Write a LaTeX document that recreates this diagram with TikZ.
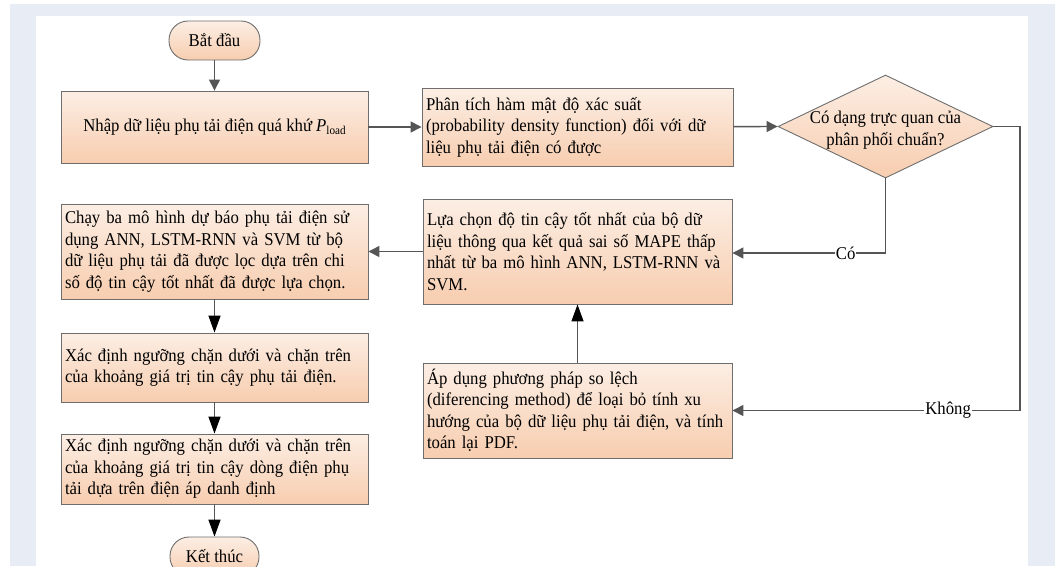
\documentclass[tikz,border=0pt]{standalone}
\usepackage{fontspec}
\setmainfont[FakeStretch=0.93]{Liberation Serif}
\usetikzlibrary{shapes.geometric,arrows.meta,calc}
\definecolor{framebg}{HTML}{E8ECF5}
\definecolor{linegray}{HTML}{555555}
\definecolor{boxedge}{HTML}{6E6E6E}
\definecolor{peachtop}{HTML}{FCEEE4}
\definecolor{peachbot}{HTML}{F7CDAF}
% a line set to a given width, spaces stretched or shrunk
\newcommand\spreadline[2]{\makebox[#1][s]{#2}}
\begin{document}
\begin{tikzpicture}[x=1pt,y=-1pt,
  txt/.style={font=\fontsize{18}{21.5}\selectfont},
  procbox/.style={rectangle, draw=boxedge, line width=0.9pt, top color=peachtop,
    bottom color=peachbot, inner sep=4pt, txt},
  termbox/.style={procbox, rounded corners=19pt, inner sep=0pt},
  decbox/.style={diamond, draw=boxedge, line width=0.9pt, top color=peachtop,
    bottom color=peachbot, inner sep=0pt},
  flow/.style={draw=linegray, line width=1.4pt},
  grayarrow/.style={flow, -{Triangle[length=11pt,width=11pt]}},
  blackarrow/.style={flow, -{Triangle[length=17pt,width=12pt,color=black]}},
  branchlabel/.style={txt, fill=white, inner sep=1pt},
]
% page frame
\clip (0,0) rectangle (1055,566);
\fill[white] (0,0) rectangle (1055,566);
\fill[framebg] (10,4) rectangle (1055,566);
\fill[white] (36,16) rectangle (1028,566);

% nodes
\node[termbox, minimum width=91pt, minimum height=39pt] (start) at (214.5,40.5) {Bắt đầu};

\node[procbox, minimum width=307pt, minimum height=72pt, align=center] (box1) at (214.5,127)
  {Nhập dữ liệu phụ tải điện quá khứ \textit{P}\raisebox{-0.35ex}{\fontsize{12}{12}\selectfont load}};

\node[procbox, text width=303pt, minimum height=78pt, align=left] (box2) at (577.5,127)
  {\mbox{Phân tích hàm mật độ xác suất}\\
   \mbox{(probability density function) đối với dữ}\\
   \mbox{liệu phụ tải điện có được}};

\node[decbox, minimum width=215pt, minimum height=103pt] (dec) at (885.5,126.5) {};
\node[txt, align=center, inner sep=0pt] (dectext) at (885.5,130)
  {Có dạng trực quan của\\ phân phối chuẩn?};

\node[procbox, text width=301pt, minimum height=105pt, align=left] (box3) at (577.5,251.5)
  {\mbox{Lựa chọn độ tin cậy tốt nhất của bộ dữ}\\
   \mbox{liệu thông qua kết quả sai số MAPE thấp}\\
   \mbox{nhất từ ba mô hình ANN, LSTM-RNN và}\\
   SVM.};

\node[procbox, text width=301pt, minimum height=95pt, align=left] (box4) at (577.5,410.5)
  {\mbox{Áp dụng phương pháp so lệch}\\
   \mbox{(diferencing method) để loại bỏ tính xu}\\
   \spreadline{294pt}{hướng của bộ dữ liệu phụ tải điện, và tính}\\
   \mbox{toán lại PDF.}};

\node[procbox, text width=299pt, minimum height=95pt, align=left] (box5) at (214.5,251.5)
  {\spreadline{299pt}{Chạy ba mô hình dự báo phụ tải điện sử}\\
   \spreadline{299pt}{dụng ANN, LSTM-RNN và SVM từ bộ}\\
   \spreadline{299pt}{dữ liệu phụ tải đã được lọc dựa trên chi}\\
   số độ tin cậy tốt nhất đã được lựa chọn.};

\node[procbox, text width=299pt, minimum height=69pt, align=left] (box6) at (214.5,367.5)
  {\spreadline{299pt}{Xác định ngưỡng chặn dưới và chặn trên}\\
   của khoảng giá trị tin cậy phụ tải điện.};

\node[procbox, text width=299pt, minimum height=70pt, align=left] (box7) at (214.5,469)
  {\spreadline{299pt}{Xác định ngưỡng chặn dưới và chặn trên}\\
   \spreadline{299pt}{của khoảng giá trị tin cậy dòng điện phụ}\\
   tải dựa trên điện áp danh định};

\node[termbox, minimum width=89pt, minimum height=39pt] (end) at (214.5,556.5) {Kết thúc};

% bend points of the two branches
\coordinate (nobend) at (1020,410.5);
\coordinate (yesbend) at (dec.south |- 0,253);

% connectors
\draw[grayarrow] (start) -- (box1);
\draw[grayarrow] (box1) -- (box2);
\draw[grayarrow] (box2) -- (dec.west);
\draw[grayarrow] (dec.south) -- (yesbend) -- node[branchlabel, pos=0.26] {Có} (box3.east |- yesbend);
\draw[grayarrow] (dec.east) -| (nobend) -- node[branchlabel, pos=0.25] {Không} (box4.east);
\draw[blackarrow] (box4) -- (box3);
\draw[grayarrow] (box3) -- (box5);
\draw[blackarrow] (box5) -- (box6);
\draw[blackarrow] (box6) -- (box7);
\draw[blackarrow] (box7) -- (end);
\end{tikzpicture}
\end{document}
